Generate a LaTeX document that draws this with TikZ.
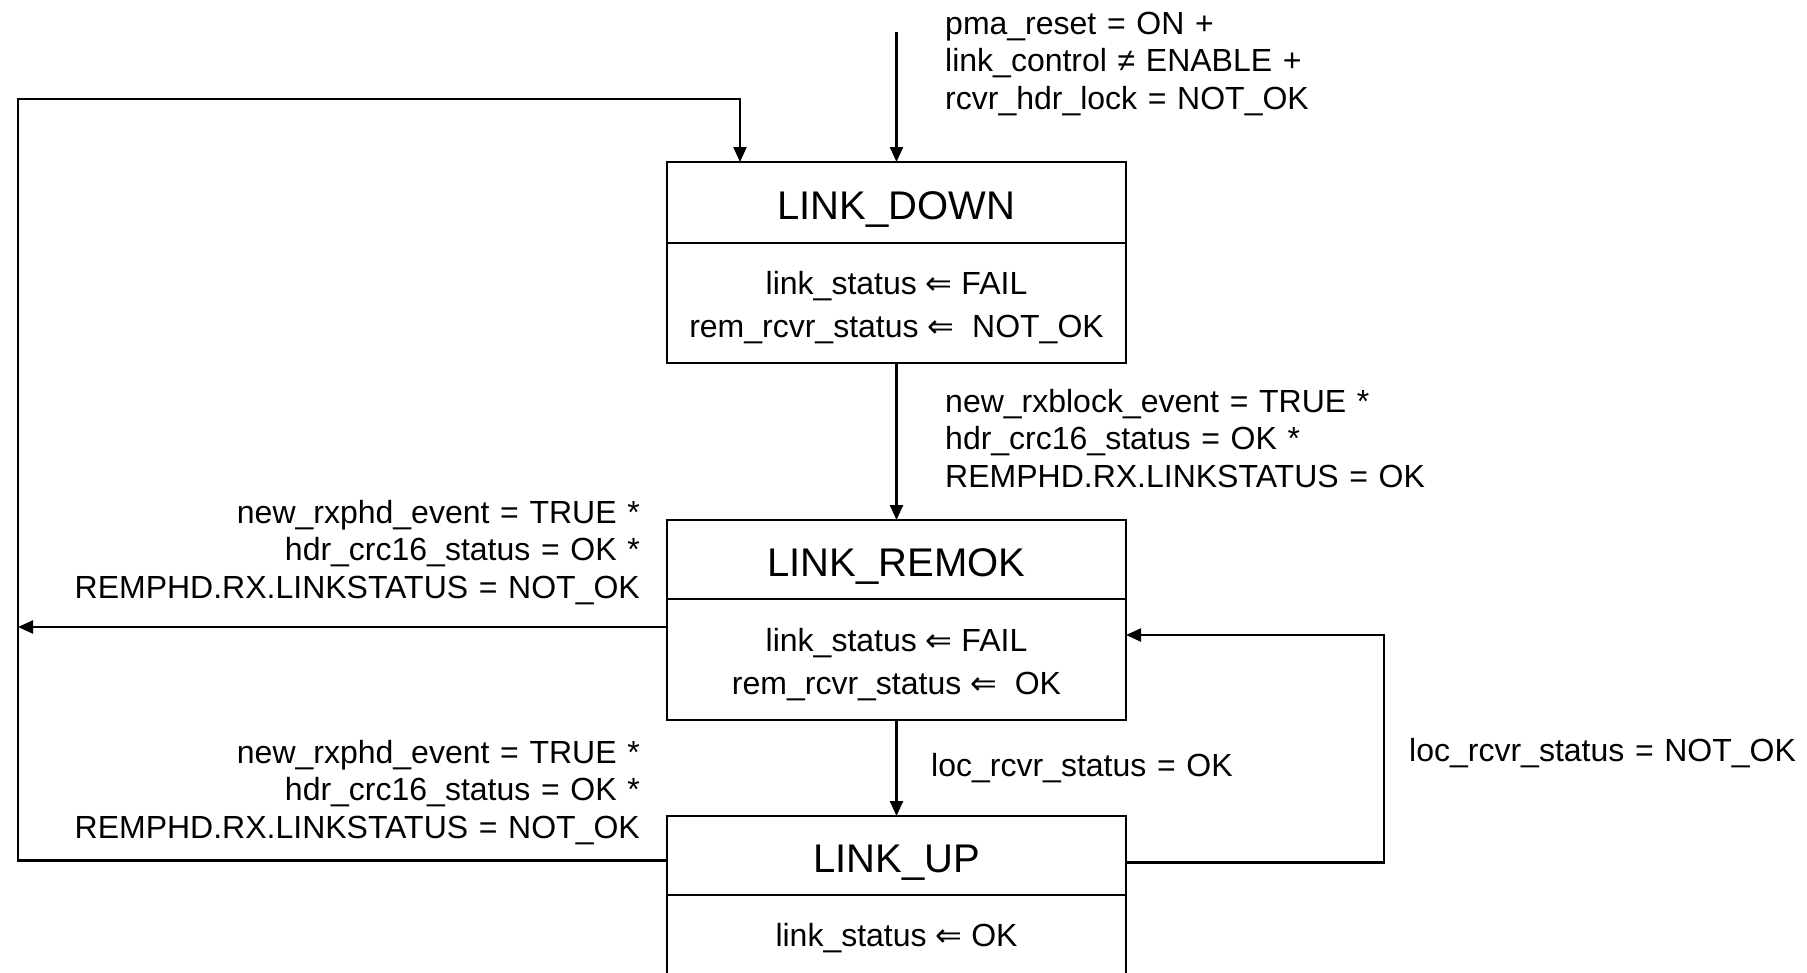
\documentclass[tikz,border=0pt]{standalone}
\usepackage{fontspec}
\setmainfont{Liberation Sans}
\newfontfamily\symfont{DejaVu Sans}
\usetikzlibrary{arrows.meta}
\newcommand{\getsarrow}{{\symfont ⇐}}
\newcommand{\lift}{\rule{0pt}{32.5pt}}

\begin{document}
\begin{tikzpicture}[x=1pt,y=-1pt,
		state/.style={draw,line width=2.6pt,minimum width=459pt,inner sep=0pt,outer sep=0pt,font=\fontsize{40}{48}\selectfont,text height=34pt,text depth=0pt},
		action/.style={draw,line width=2.6pt,minimum width=459pt,inner sep=0pt,outer sep=0pt,font=\fontsize{32}{43}\selectfont,align=center},
		cond/.style={inner sep=0pt,font=\fontsize{32}{37.5}\selectfont,text width=640pt},
		trans/.style={line width=2.2pt,-{Triangle[length=15pt,width=13pt]}}]
		\useasboundingbox (0,0) rectangle (1807,972);
		\clip (0,0) rectangle (1807,972);
		% states
		\node[state,minimum height=81pt] (down) at (896.5,202.5) {LINK\_DOWN};
		\node[action,minimum height=120pt,anchor=north] (downact) at (down.south) {\lift link\_status \getsarrow\ FAIL\\rem\_rcvr\_status \getsarrow\ \ NOT\_OK};
		\node[state,minimum height=79pt] (remok) at (896.5,559.5) {LINK\_REMOK};
		\node[action,minimum height=121pt,anchor=north] (remokact) at (remok.south) {\lift link\_status \getsarrow\ FAIL\\rem\_rcvr\_status \getsarrow\ \ OK};
		\node[state,minimum height=79pt] (up) at (896.5,855.5) {LINK\_UP};
		\node[action,minimum height=87pt,anchor=north] (upact) at (up.south) {link\_status \getsarrow\ OK};
		% transitions
		\coordinate (reset) at (896.5,32);
		\coordinate (rail) at (18,627);
		\coordinate (top) at (18,99);
		\coordinate (back) at (740,99);
		\coordinate (loop) at (1384,635);
		\draw[trans] (reset) -- (down.north);
		\draw[trans] (downact) -- (remok);
		\draw[trans] (remokact) -- (up);
		\draw[trans] (remokact.west |- rail) -- (rail);
		\draw[trans] ([yshift=-5pt]up.west) -| (top) -- (back) -- (back |- down.north);
		\draw[trans] ([yshift=-7pt]up.east) -| (loop) -- (loop -| remokact.east);
		% conditions
		\node[cond,align=left,anchor=base west] (resetcond) at (945,34) {pma\_reset = ON +\\link\_control ≠ ENABLE +\\rcvr\_hdr\_lock = NOT\_OK};
		\node[cond,align=left,anchor=base west] (remokcond) at (945,412) {new\_rxblock\_event = TRUE *\\hdr\_crc16\_status = OK *\\REMPHD.RX.LINKSTATUS = OK};
		\node[cond,align=right,anchor=base east] (failcond) at (640,523) {new\_rxphd\_event = TRUE *\\hdr\_crc16\_status = OK *\\REMPHD.RX.LINKSTATUS = NOT\_OK};
		\node[cond,align=right,anchor=base east] (downcond) at (640,763) {new\_rxphd\_event = TRUE *\\hdr\_crc16\_status = OK *\\REMPHD.RX.LINKSTATUS = NOT\_OK};
		\node[cond,align=left,anchor=base west] (upcond) at (931,776) {loc\_rcvr\_status = OK};
		\node[cond,align=left,anchor=base west] (losscond) at (1409,761) {loc\_rcvr\_status = NOT\_OK};
	\end{tikzpicture}
\end{document}
